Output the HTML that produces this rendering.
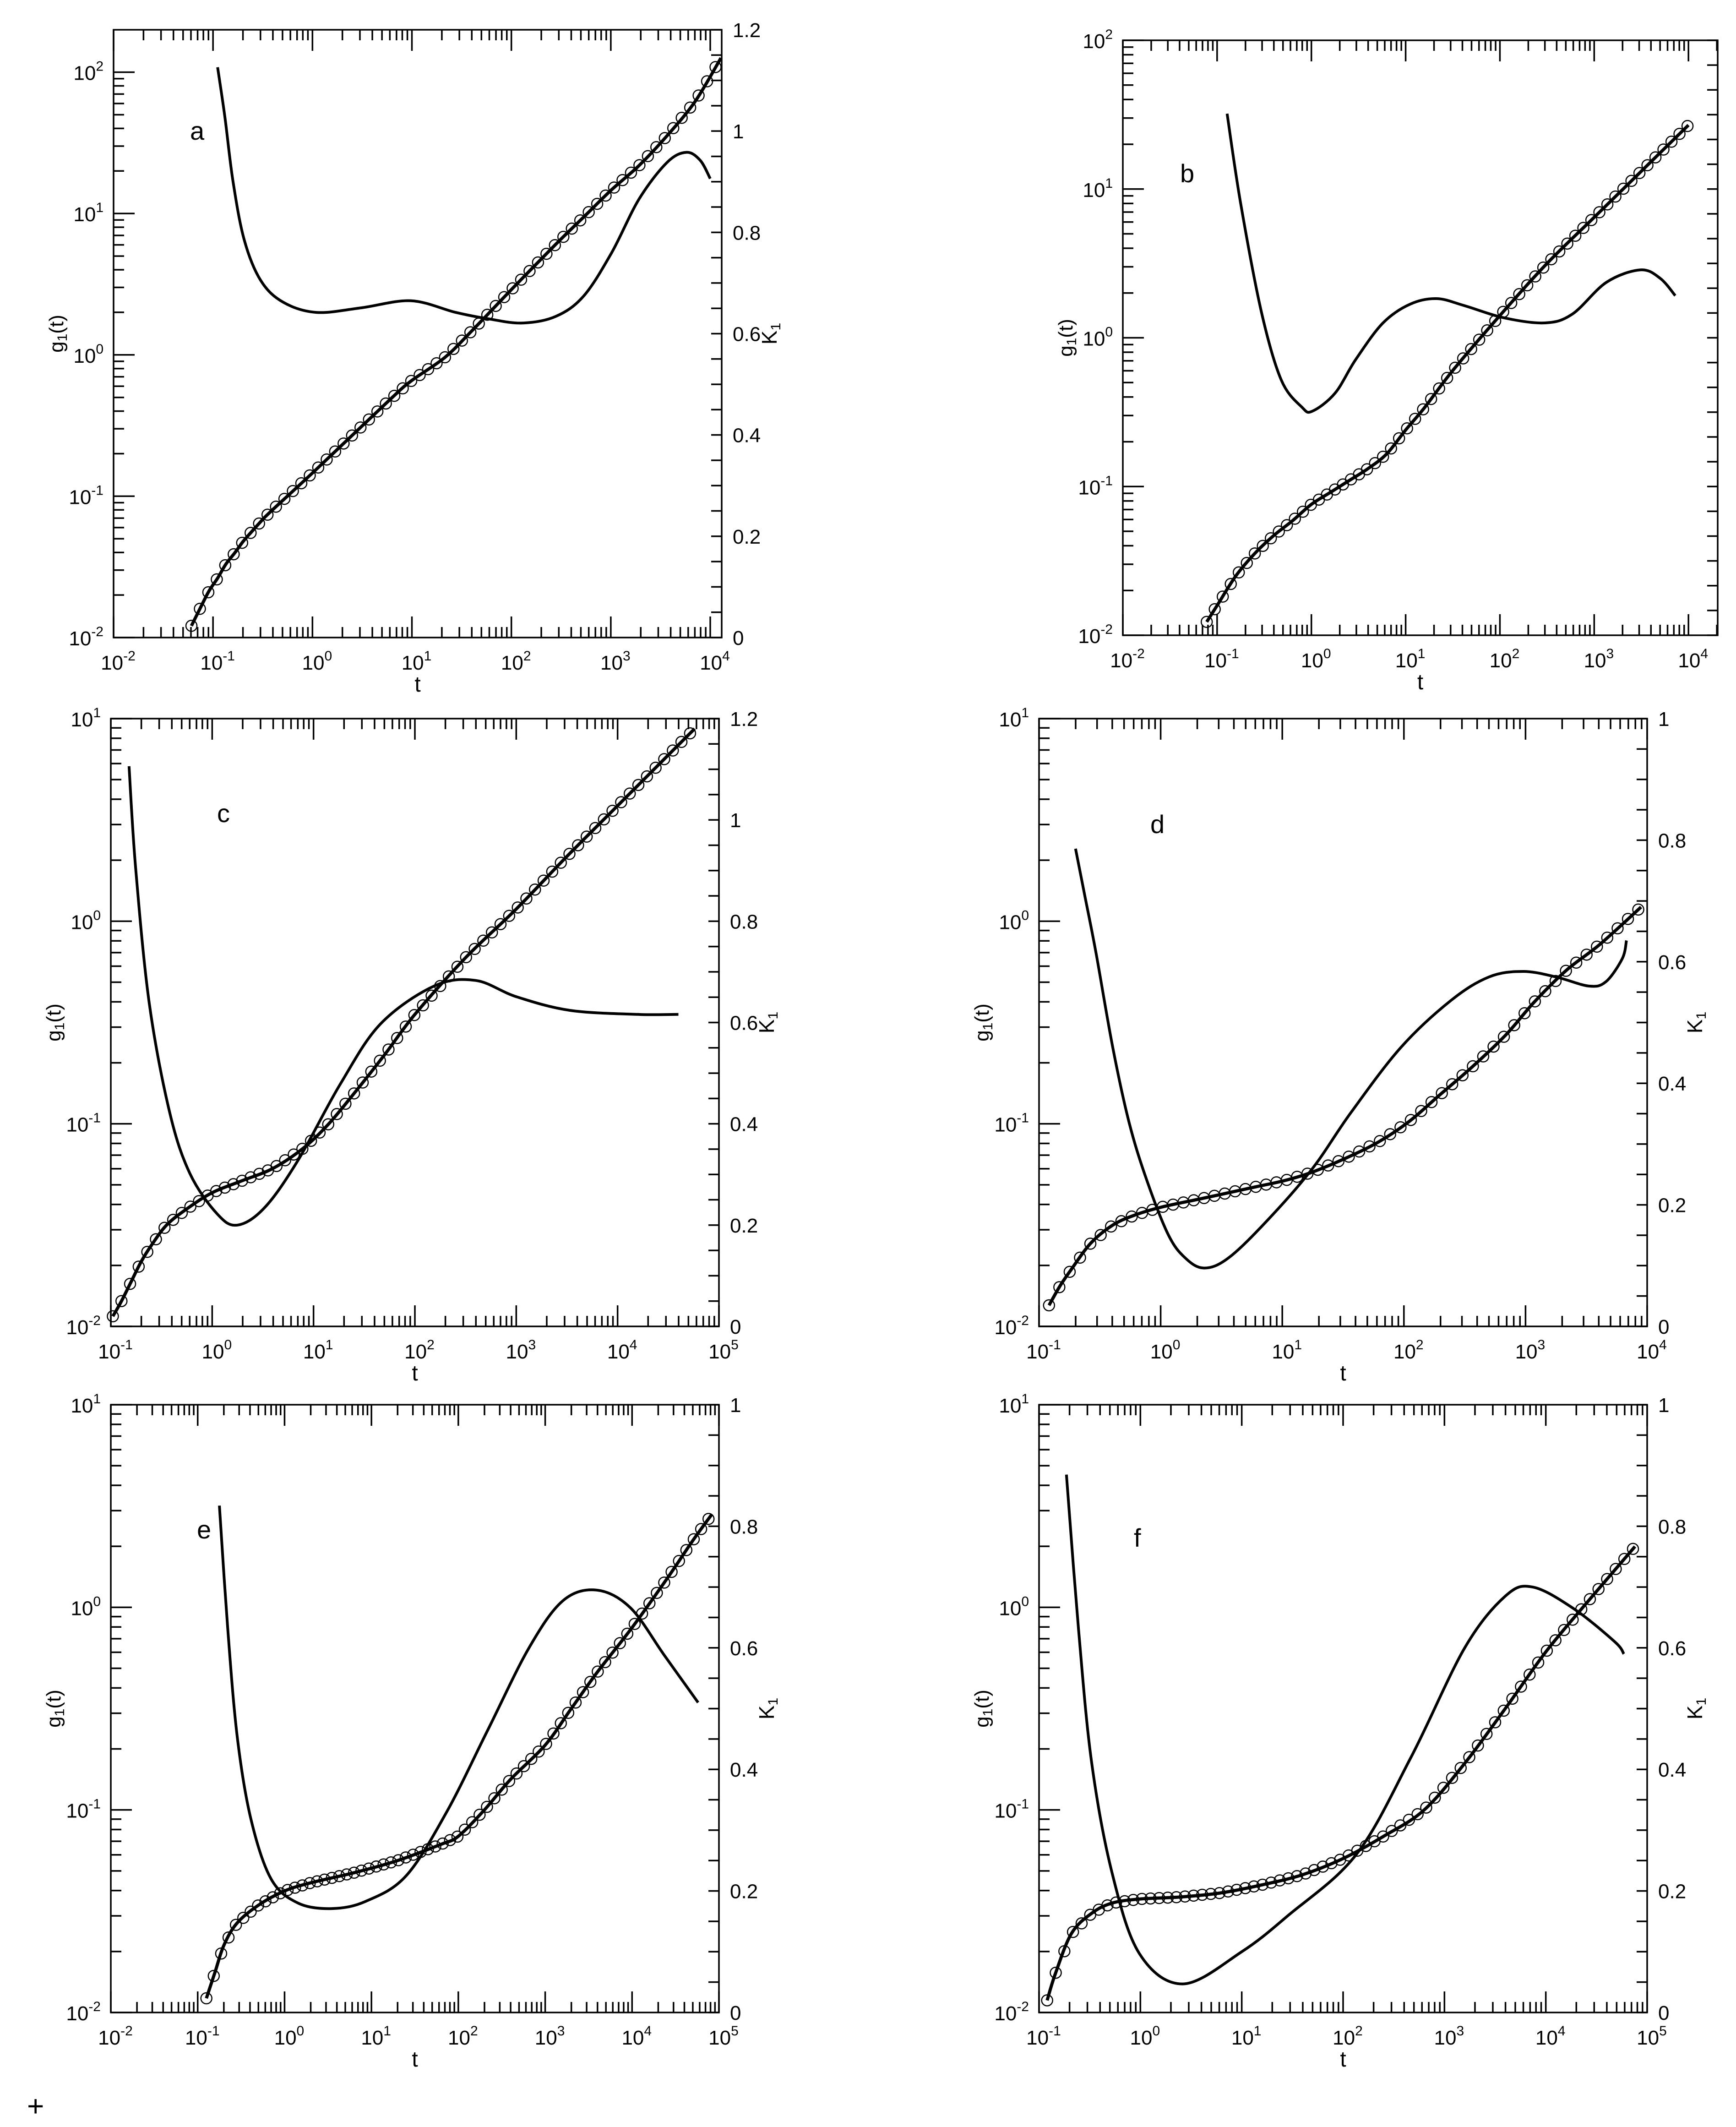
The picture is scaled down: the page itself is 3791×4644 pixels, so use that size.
<!DOCTYPE html>
<html><head><meta charset="utf-8"><style>
html,body{margin:0;padding:0;background:#fff;}
svg{display:block;font-family:"Liberation Sans",Arial,sans-serif;}
</style></head><body>
<svg id="fig" width="3791" height="4644" viewBox="0 0 3791 4644" xmlns="http://www.w3.org/2000/svg">
<rect width="3791" height="4644" fill="#fff"/>
<text x="59" y="4620" font-size="64">+</text>
</svg>
<script>
// ---- data (log10 t, log10 g1) and (log10 t, K1) ----
const gLogT_a = [-1.217,-1.133,-1.04,-0.954,-0.87,-0.78,-0.697,-0.61,-0.52,-0.43,0.013,0.768,0.99,1.33,1.607,1.998,2.446,2.726,3.006,3.285,3.565,3.845,4.107];
const gLogG_a = [-1.917,-1.798,-1.67,-1.58,-1.48,-1.40,-1.32,-1.25,-1.18,-1.115,-0.827,-0.324,-0.186,-0.019,0.173,0.46,0.782,0.974,1.167,1.34,1.55,1.79,2.10];
const kLogT_a = [-0.954,-0.88,-0.80,-0.686,-0.52,-0.294,0.04,0.49,0.99,1.44,1.776,2.11,2.446,2.726,3.006,3.285,3.565,3.76,3.9,4.0];
const kVal_a = [1.126,1.027,0.902,0.785,0.705,0.662,0.642,0.651,0.665,0.642,0.629,0.621,0.634,0.674,0.759,0.866,0.938,0.958,0.942,0.906];

const gLogT_b = [-1.11,-1.0,-0.8,-0.6,-0.4,-0.2,0,0.2,0.4,0.6,0.8,1.0,1.2,1.5,2.0,2.5,3.0,3.5,4.0];
const gLogG_b = [-1.91,-1.80,-1.6,-1.45,-1.33,-1.23,-1.12,-1.04,-0.96,-0.88,-0.78,-0.62,-0.47,-0.22,0.15,0.5,0.81,1.12,1.43];
const kLogT_b = [-0.894,-0.75,-0.53,-0.32,-0.1,0.01,0.25,0.47,0.76,1.05,1.33,1.62,2.05,2.48,2.77,3.13,3.49,3.7,3.86];
const kVal_b = [1.052,0.871,0.652,0.515,0.46,0.452,0.488,0.556,0.630,0.668,0.679,0.665,0.640,0.630,0.648,0.712,0.737,0.720,0.685];

const gLogT_c = [-0.98,-0.9,-0.8,-0.7,-0.6,-0.45,-0.25,0,0.3,0.6,0.9,1.15,1.4,1.7,2.0,2.5,3.0,3.5,4.0,4.5,4.76];
const gLogG_c = [-1.95,-1.88,-1.78,-1.68,-1.60,-1.50,-1.42,-1.34,-1.28,-1.22,-1.12,-1.0,-0.85,-0.66,-0.46,-0.18,0.06,0.32,0.57,0.82,0.95];
const kLogT_c = [-0.82,-0.755,-0.62,-0.42,-0.22,0.05,0.25,0.52,0.85,1.26,1.66,2.19,2.6,3.0,3.53,4.2,4.6];
const kVal_c = [1.106,0.905,0.637,0.423,0.302,0.222,0.2,0.235,0.329,0.477,0.597,0.672,0.683,0.651,0.624,0.616,0.616];

const gLogT_d = [-0.918,-0.827,-0.736,-0.576,-0.394,-0.21,0.015,0.33,0.56,0.79,1.02,1.24,1.52,1.79,2.04,2.29,2.56,2.84,3.07,3.34,3.61,3.95];
const gLogG_d = [-1.896,-1.80,-1.72,-1.59,-1.50,-1.45,-1.41,-1.37,-1.34,-1.31,-1.28,-1.24,-1.17,-1.09,-0.99,-0.86,-0.72,-0.56,-0.40,-0.24,-0.115,0.07];
const kLogT_d = [-0.70,-0.62,-0.53,-0.394,-0.26,-0.12,0.06,0.20,0.357,0.56,0.88,1.245,1.565,1.975,2.385,2.7,2.98,3.25,3.52,3.66,3.795,3.83];
const kVal_d = [0.786,0.705,0.613,0.459,0.336,0.244,0.152,0.113,0.096,0.113,0.175,0.259,0.352,0.459,0.536,0.575,0.584,0.575,0.56,0.567,0.605,0.635];

const gLogT_e = [-0.90,-0.8,-0.7,-0.55,-0.3,0,0.3,0.8,1.3,1.8,2.0,2.3,2.6,3.0,3.3,3.6,4.0,4.4,4.7,4.92];
const gLogG_e = [-1.93,-1.8,-1.67,-1.56,-1.47,-1.40,-1.36,-1.31,-1.25,-1.17,-1.13,-1.0,-0.85,-0.68,-0.5,-0.32,-0.1,0.14,0.33,0.46];
const kLogT_e = [-0.75,-0.655,-0.545,-0.39,-0.156,0.155,0.545,0.935,1.4,1.87,2.34,2.81,3.2,3.59,3.98,4.37,4.76];
const kVal_e = [0.834,0.633,0.454,0.32,0.22,0.18,0.171,0.183,0.225,0.331,0.465,0.599,0.677,0.695,0.666,0.588,0.51];

const gLogT_f = [-0.92,-0.84,-0.68,-0.48,-0.28,-0.01,0.39,0.79,1.2,1.6,2.0,2.4,2.8,3.2,3.6,4.0,4.4,4.88];
const gLogG_f = [-1.94,-1.81,-1.61,-1.51,-1.46,-1.44,-1.43,-1.41,-1.37,-1.32,-1.24,-1.13,-1.0,-0.77,-0.50,-0.22,0.02,0.30];
const kLogT_f = [-0.73,-0.61,-0.48,-0.28,-0.01,0.42,1.0,1.46,2.13,2.67,3.2,3.6,3.87,4.27,4.68,4.77];
const kVal_f = [0.885,0.63,0.41,0.23,0.097,0.047,0.10,0.16,0.26,0.42,0.60,0.685,0.70,0.665,0.61,0.59];

const kTickLabels_a = ["0","0.2","0.4","0.6","0.8","1","1.2"];
const kTickLabels_d = ["0","0.2","0.4","0.6","0.8","1"];

// ---- layout ----
const panels = [
 {id:'a',L:248,R:1576,T:65,B:1392,xmin:-2,xmax:4.115,ymin:-2,ymax:2.30,kmax:1.2,kl:kTickLabels_a,gx:gLogT_a,gy:gLogG_a,kx:kLogT_a,ky:kVal_a,lx:415,ly:305},
 {id:'b',L:2452,R:3751,T:88,B:1387,xmin:-2,xmax:4.31,ymin:-2,ymax:2,kmax:1.2,kl:null,gx:gLogT_b,gy:gLogG_b,kx:kLogT_b,ky:kVal_b,lx:2577,ly:398},
 {id:'c',L:242,R:1570,T:1569,B:2896,xmin:-1,xmax:5,ymin:-2,ymax:1,kmax:1.2,kl:kTickLabels_a,gx:gLogT_c,gy:gLogG_c,kx:kLogT_c,ky:kVal_c,lx:474,ly:1795},
 {id:'d',L:2269,R:3597,T:1569,B:2896,xmin:-1,xmax:4,ymin:-2,ymax:1,kmax:1,kl:kTickLabels_d,gx:gLogT_d,gy:gLogG_d,kx:kLogT_d,ky:kVal_d,lx:2512,ly:1819},
 {id:'e',L:242,R:1570,T:3067,B:4394,xmin:-2,xmax:5,ymin:-2,ymax:1,kmax:1,kl:kTickLabels_d,gx:gLogT_e,gy:gLogG_e,kx:kLogT_e,ky:kVal_e,lx:430,ly:3359},
 {id:'f',L:2269,R:3597,T:3067,B:4394,xmin:-1,xmax:5,ymin:-2,ymax:1,kmax:1,kl:kTickLabels_d,gx:gLogT_f,gy:gLogG_f,kx:kLogT_f,ky:kVal_f,lx:2476,ly:3377}
];
const NS='http://www.w3.org/2000/svg';
const svg=document.getElementById('fig');
function mk(tag,attrs,parent){const e=document.createElementNS(NS,tag);for(const k in attrs)e.setAttribute(k,attrs[k]);(parent||svg).appendChild(e);return e;}
function smooth(pts){
  let d='M'+pts[0][0].toFixed(1)+' '+pts[0][1].toFixed(1);
  for(let i=0;i<pts.length-1;i++){
    const p0=pts[Math.max(0,i-1)],p1=pts[i],p2=pts[i+1],p3=pts[Math.min(pts.length-1,i+2)];
    const c1=[p1[0]+(p2[0]-p0[0])/6,p1[1]+(p2[1]-p0[1])/6];
    const c2=[p2[0]-(p3[0]-p1[0])/6,p2[1]-(p3[1]-p1[1])/6];
    d+=' C'+c1[0].toFixed(1)+' '+c1[1].toFixed(1)+' '+c2[0].toFixed(1)+' '+c2[1].toFixed(1)+' '+p2[0].toFixed(1)+' '+p2[1].toFixed(1);
  }
  return d;
}
function interp(xs,ys,x){
  for(let i=0;i<xs.length-1;i++){if(x<=xs[i+1]){const f=(x-xs[i])/(xs[i+1]-xs[i]);return ys[i]+f*(ys[i+1]-ys[i]);}}
  return ys[ys.length-1];
}
panels.forEach(p=>{
  const g=mk('g',{});
  
  
  const X=v=>p.L+(v-p.xmin)/(p.xmax-p.xmin)*(p.R-p.L);
  const Y=v=>p.B-(v-p.ymin)/(p.ymax-p.ymin)*(p.B-p.T);
  const K=v=>p.B-v/p.kmax*(p.B-p.T);
  const fr=mk('rect',{x:p.L,y:p.T,width:p.R-p.L,height:p.B-p.T,fill:'none',stroke:'#000','stroke-width':3.5},g);
  
  
  let td='';
  for(let dc=Math.floor(p.xmin);dc<=Math.ceil(p.xmax);dc++){
    for(let m=1;m<=9;m++){
      const v=dc+Math.log10(m); if(v<p.xmin-1e-6||v>p.xmax+1e-6)continue;
      const x=X(v),len=(m===1?46:23);
      td+=`M${x} ${p.B}V${p.B-len}M${x} ${p.T}V${p.T+len}`;
    }
  }
  for(let dc=Math.floor(p.ymin);dc<=Math.ceil(p.ymax);dc++){
    for(let m=1;m<=9;m++){
      const v=dc+Math.log10(m); if(v<p.ymin-1e-6||v>p.ymax+1e-6)continue;
      const y=Y(v),len=(m===1?46:23);
      td+=`M${p.L} ${y}H${p.L+len}`;
    }
  }
  for(let i=0;i<=Math.round(p.kmax/0.05);i++){const y=K(i*0.05);td+=`M${p.R} ${y}H${p.R-23}`;}
  const tk=mk('path',{d:td,stroke:'#000','stroke-width':3.5,fill:'none'},g);
  
  
  for(let dc=Math.ceil(p.xmin);dc<=Math.floor(p.xmax);dc++){
    const t=mk('text',{x:X(dc)+10,y:p.B+70,'font-size':44,'text-anchor':'middle'},g);
    
    
    t.appendChild(document.createTextNode('10'));
    const s=mk('tspan',{'font-size':30,dy:-20},t); s.textContent=String(dc);
  }
  for(let dc=Math.ceil(p.ymin);dc<=Math.floor(p.ymax);dc++){
    const t=mk('text',{x:p.L-22,y:Y(dc)+17,'font-size':44,'text-anchor':'end'},g);
    
    
    t.appendChild(document.createTextNode('10'));
    const s=mk('tspan',{'font-size':30,dy:-20},t); s.textContent=String(dc);
  }
  if(p.kl){p.kl.forEach((lab,i)=>{
    const t=mk('text',{x:p.R+24,y:K(i*0.2)+16,'font-size':44},g);
    
    
    t.textContent=lab;});}
  const xt=mk('text',{x:(p.L+p.R)/2,y:p.B+118,'font-size':48,'text-anchor':'middle'},g);
  
  
  xt.textContent='t';
  const cy=(p.T+p.B)/2;
  const yt=mk('text',{x:p.L-110,y:cy,'font-size':44,'text-anchor':'middle',transform:`rotate(-90 ${p.L-110} ${cy})`},g);
  
  
  yt.appendChild(document.createTextNode('g'));
  const ys=mk('tspan',{'font-size':30,dy:8},yt); ys.textContent='1';
  const yr=mk('tspan',{dy:-8},yt); yr.textContent='(t)';
  const kx=p.R+120;
  const kt=mk('text',{x:kx,y:cy,'font-size':46,'text-anchor':'middle',transform:`rotate(-90 ${kx} ${cy})`},g);
  
  
  kt.appendChild(document.createTextNode('K'));
  const ks=mk('tspan',{'font-size':30,dy:8},kt); ks.textContent='1';
  const pl=mk('text',{x:p.lx,y:p.ly,'font-size':56},g);
  
  
  pl.textContent=p.id;
  const kp=mk('path',{d:smooth(p.kx.map((v,i)=>[X(v),K(p.ky[i])])),fill:'none',stroke:'#000','stroke-width':6,'stroke-linejoin':'round'},g);
  
  
  const gp=mk('path',{d:smooth(p.gx.map((v,i)=>[X(v),Y(p.gy[i])])),fill:'none',stroke:'#000','stroke-width':7,'stroke-linejoin':'round'},g);
  
  
  const x0=p.gx[0],x1=p.gx[p.gx.length-1];
  for(let v=x0;v<=x1+1e-6;v+=0.085){
    const c=mk('circle',{cx:X(v),cy:Y(interp(p.gx,p.gy,v)),r:12,fill:'none',stroke:'#000','stroke-width':2.5},g);
    
    
  }
});
</script>
</body></html>
